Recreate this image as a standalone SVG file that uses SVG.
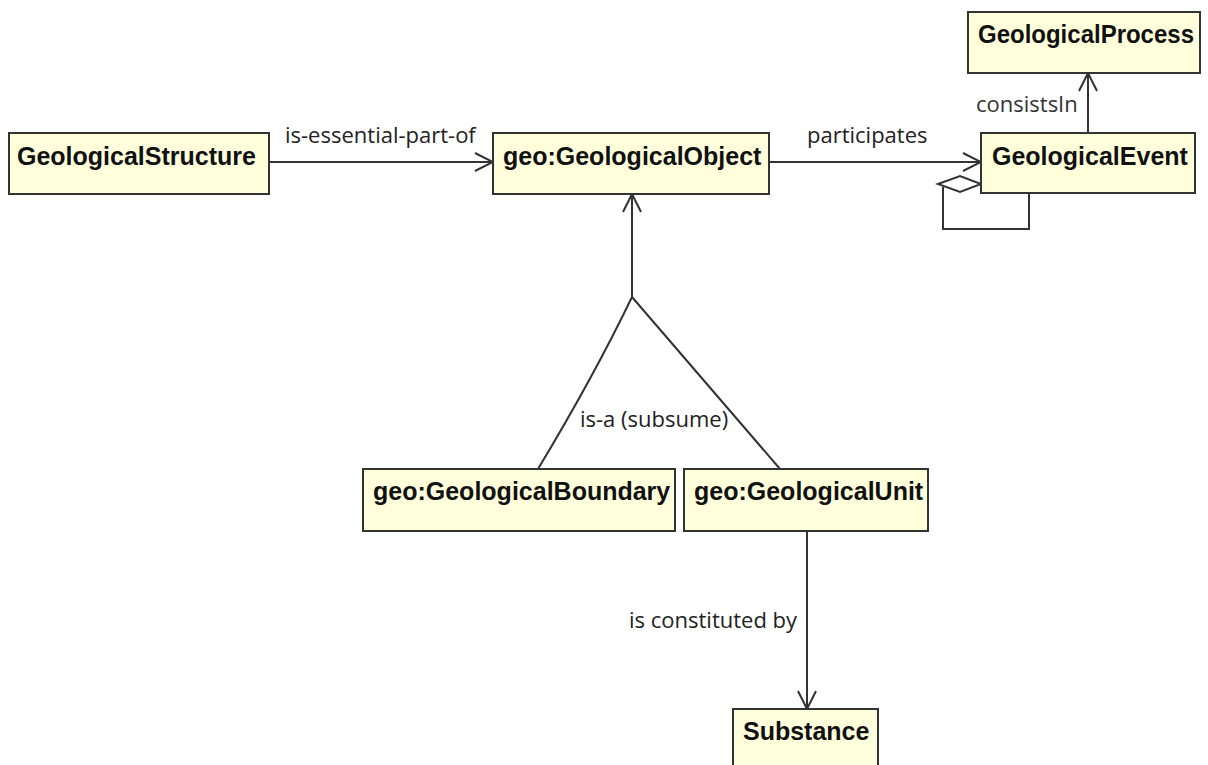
<svg xmlns="http://www.w3.org/2000/svg" width="1208" height="765" viewBox="0 0 1208 765">
  <defs>
    <style>
      .box { fill: #ffffdc; stroke: #333333; stroke-width: 2; }
      .name { font-family: "Liberation Sans", Arial, sans-serif; font-weight: bold; font-size: 25px; fill: #111111; }
      .edge { fill: none; stroke: #333333; stroke-width: 2; }
      .label { font-family: "Open Sans", "Liberation Sans", sans-serif; font-size: 22px; fill: #222222; }
    </style>
    <marker id="open" viewBox="0 0 20 20" refX="19" refY="10" markerWidth="20" markerHeight="20" markerUnits="userSpaceOnUse" orient="auto">
      <path d="M1,1 L19,10 L1,19" fill="none" stroke="#333333" stroke-width="2"/>
    </marker>
  </defs>

  <rect width="1208" height="765" fill="#ffffff"/>

  <!-- connectors -->
  <g id="connectors">
    <line class="edge" x1="269" y1="162" x2="493" y2="162" marker-end="url(#open)"/>
    <text class="label" x="285" y="143">is-essential-part-of</text>

    <line class="edge" x1="769" y1="162" x2="981" y2="162" marker-end="url(#open)"/>
    <text class="label" x="807" y="143">participates</text>

    <line class="edge" x1="1088" y1="133" x2="1088" y2="73" marker-end="url(#open)"/>
    <text class="label" x="976" y="112" style="fill:#333333">consistsIn</text>

    <!-- aggregation self-loop on GeologicalEvent -->
    <polygon points="938,184 960,176 981,184 960,192" fill="#ffffff" stroke="#333333" stroke-width="2"/>
    <polyline class="edge" points="943,187 943,229 1029,229 1029,193"/>

    <!-- generalisation fork -->
    <line class="edge" x1="632" y1="297" x2="632" y2="194" marker-end="url(#open)"/>
    <path class="edge" d="M632,297 Q594,376 538,469"/>
    <path class="edge" d="M632,297 Q700,376 780,469"/>
    <text class="label" x="580" y="427">is-a (subsume)</text>

    <line class="edge" x1="807" y1="531" x2="807" y2="709" marker-end="url(#open)"/>
    <text class="label" x="629" y="628">is constituted by</text>
  </g>

  <!-- nodes -->
  <g id="GeologicalStructure">
    <rect class="box" x="9" y="133" width="260" height="61"/>
    <text class="name" x="17" y="165">GeologicalStructure</text>
  </g>
  <g id="GeologicalObject">
    <rect class="box" x="493" y="133" width="276" height="61"/>
    <text class="name" x="503" y="165">geo:GeologicalObject</text>
  </g>
  <g id="GeologicalProcess">
    <rect class="box" x="968" y="12" width="232" height="61"/>
    <text class="name" x="978" y="43" textLength="216" lengthAdjust="spacingAndGlyphs">GeologicalProcess</text>
  </g>
  <g id="GeologicalEvent">
    <rect class="box" x="981" y="133" width="214" height="60"/>
    <text class="name" x="992" y="165">GeologicalEvent</text>
  </g>
  <g id="GeologicalBoundary">
    <rect class="box" x="363" y="469" width="312" height="62"/>
    <text class="name" x="373" y="500">geo:GeologicalBoundary</text>
  </g>
  <g id="GeologicalUnit">
    <rect class="box" x="684" y="469" width="244" height="62"/>
    <text class="name" x="694" y="500">geo:GeologicalUnit</text>
  </g>
  <g id="Substance">
    <rect class="box" x="733" y="709" width="145" height="70"/>
    <text class="name" x="743" y="740">Substance</text>
  </g>
</svg>
